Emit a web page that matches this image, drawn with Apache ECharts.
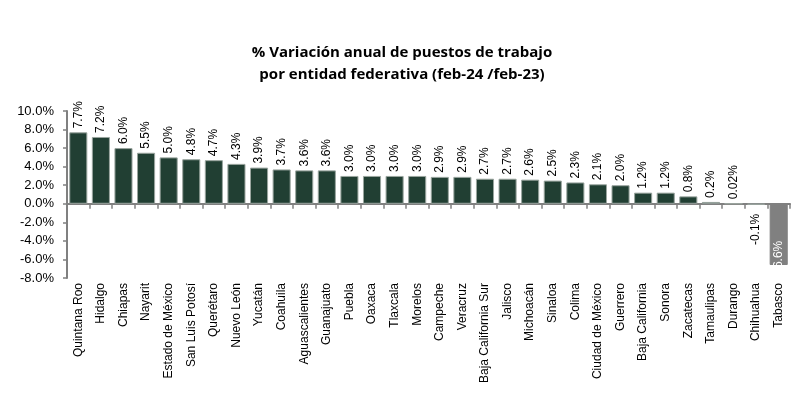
<!DOCTYPE html>
<html><head><meta charset="utf-8">
<script src="https://cdn.jsdelivr.net/npm/echarts@6/dist/echarts.min.js"></script>
<style>html,body{margin:0;padding:0;background:#fff}#c{width:804px;height:419px}</style>
</head><body><div id="c"></div>
<script>
const categories = ["Quintana Roo","Hidalgo","Chiapas","Nayarit","Estado de México","San Luis Potosí","Querétaro","Nuevo León","Yucatán","Coahuila","Aguascalientes","Guanajuato","Puebla","Oaxaca","Tlaxcala","Morelos","Campeche","Veracruz","Baja California Sur","Jalisco","Michoacán","Sinaloa","Colima","Ciudad de México","Guerrero","Baja California","Sonora","Zacatecas","Tamaulipas","Durango","Chihuahua","Tabasco"];
const values = [7.7,7.2,6.0,5.5,5.0,4.8,4.7,4.3,3.9,3.7,3.6,3.6,3.0,3.0,3.0,3.0,2.9,2.9,2.7,2.7,2.6,2.5,2.3,2.1,2.0,1.2,1.2,0.8,0.2,0.02,-0.1,-6.6];
const valueLabels = ["7.7%","7.2%","6.0%","5.5%","5.0%","4.8%","4.7%","4.3%","3.9%","3.7%","3.6%","3.6%","3.0%","3.0%","3.0%","3.0%","2.9%","2.9%","2.7%","2.7%","2.6%","2.5%","2.3%","2.1%","2.0%","1.2%","1.2%","0.8%","0.2%","0.02%","-0.1%","-6.6%"];
const yTicks = {min:-8, max:10, interval:2};
const highlight = "Tabasco";

const font = "'Liberation Sans', Arial, sans-serif";
const data = values.map((v,i)=>{
  const isHi = categories[i]===highlight;
  const d = {value:v, itemStyle:{color: isHi ? '#808080' : '#213f33', borderColor: isHi ? '#808080' : '#9aa59f', borderWidth:1}};
  if (isHi) {
    d.label = {position:'inside', rotate:90, align:'center', verticalAlign:'middle', color:'#fff', offset:[-22,0]};
  } else if (v < 0) {
    d.label = {position:'bottom', rotate:90, align:'right', verticalAlign:'middle', distance:9};
  }
  return d;
});

const chart = echarts.init(document.getElementById('c'));
chart.setOption({
  animation:false,
  title:{text:'% Variación anual de puestos de trabajo\npor entidad federativa (feb-24 /feb-23)', left:'center', top:37,
    textStyle:{fontFamily:"'Open Sans', sans-serif", fontWeight:'bold', fontSize:15, lineHeight:22, color:'#000'}},
  grid:{left:67, right:14, top:111, bottom:141, containLabel:false, outerBoundsMode:'none'},
  xAxis:{type:'category', data:categories,
    axisLine:{lineStyle:{color:'#808080', width:2}},
    axisTick:{show:true, alignWithLabel:false, length:5, lineStyle:{color:'#808080', width:1.5}, inside:false},
    axisLabel:{rotate:90, interval:0, fontFamily:font, fontSize:12, color:'#000', margin:5}},
  yAxis:{type:'value', min:yTicks.min, max:yTicks.max, interval:yTicks.interval,
    splitLine:{show:false},
    axisLine:{show:true, lineStyle:{color:'#808080', width:2}},
    axisTick:{show:true, length:4, lineStyle:{color:'#808080', width:1.5}},
    axisLabel:{formatter:v=>v.toFixed(1)+'%', fontFamily:font, fontSize:13, color:'#000', margin:13}},
  series:[{type:'bar', data:data, barCategoryGap:'20%',
    label:{show:true, position:'top', rotate:90, align:'left', verticalAlign:'middle', distance:4,
      fontFamily:font, fontSize:12, color:'#000', formatter:p=>valueLabels[p.dataIndex]}}]
});
</script></body></html>
